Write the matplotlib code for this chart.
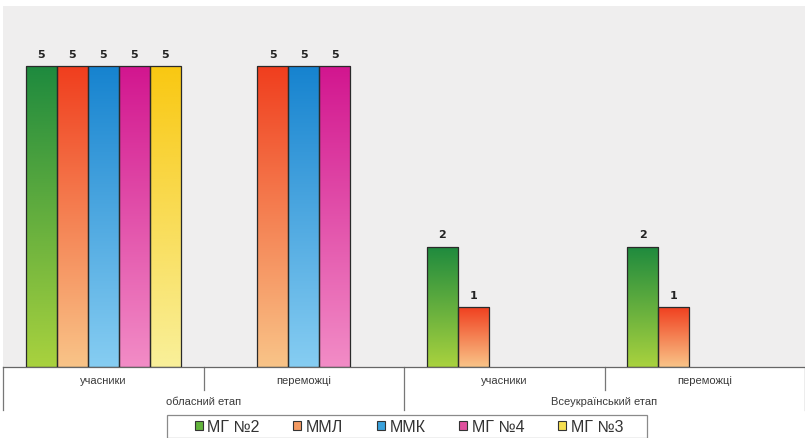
import matplotlib.pyplot as plt
import matplotlib.transforms as mtransforms
from matplotlib.colors import LinearSegmentedColormap
import numpy as np

plt.rcParams['font.family'] = ['Liberation Sans', 'DejaVu Sans']

# data
sub_labels = ['учасники', 'переможці', 'учасники', 'переможці']
stage_labels = ['обласний етап', 'Всеукраїнський етап']
series = ['МГ №2', 'ММЛ', 'ММК', 'МГ №4', 'МГ №3']
mg2 = [5, 0, 2, 2]
mml = [5, 5, 1, 1]
mmk = [5, 5, 0, 0]
mg4 = [5, 5, 0, 0]
mg3 = [5, 0, 0, 0]
values = [mg2, mml, mmk, mg4, mg3]

# gradient colours: (top, bottom)
grads = [('#1e8a3e', '#a9d23e'),
         ('#f03e1e', '#f9c488'),
         ('#1683cf', '#86cdf2'),
         ('#d2168f', '#f28cc6'),
         ('#f9c812', '#f9f09a')]
legend_cols = ['#62b43c', '#f49a62', '#3aa2dc', '#e0509e', '#f6df50']

fig = plt.figure(figsize=(8.05, 4.39), dpi=100)
fig.patch.set_facecolor('white')
ax = fig.add_axes([3 / 805, 1 - 368 / 439, 802 / 805, 361 / 439])
ax.set_facecolor('#efeeee')

x = np.arange(len(sub_labels))
w = 0.155
grad = np.linspace(1, 0, 256).reshape(-1, 1)

for i, (name, vals) in enumerate(zip(series, values)):
    cmap = LinearSegmentedColormap.from_list(name, [grads[i][1], grads[i][0]])
    pos = x + (i - 2) * w
    bars = ax.bar(pos, vals, w, color='none', edgecolor='#2a2a2a', linewidth=0.9, zorder=3)
    for b, v in zip(bars, vals):
        if v == 0:
            b.set_visible(False)
            continue
        x0 = b.get_x()
        im = ax.imshow(grad, cmap=cmap, aspect='auto', vmin=0, vmax=1,
                       extent=(x0, x0 + w, 0, v), zorder=2, interpolation='bilinear')
        im.set_clip_path(b)
        ax.text(x0 + w / 2, v + 0.12, str(v), ha='center', va='bottom',
                fontsize=8, fontweight='bold', color='#222222', family='DejaVu Sans')

ax.set_xlim(-0.5, 3.5)
ax.set_ylim(0, 6)
ax.set_yticks([])
ax.set_xticks([])
for s in ['left', 'right', 'top']:
    ax.spines[s].set_visible(False)
ax.spines['bottom'].set_color('#666666')
ax.spines['bottom'].set_linewidth(0.9)

# two-level category axis
tr = mtransforms.blended_transform_factory(ax.transData, ax.transAxes)
for xb in [0.5, 2.5]:
    ax.plot([xb, xb], [0, -0.065], transform=tr, color='#777777', lw=0.9, clip_on=False)
for xb in [-0.5, 1.5, 3.5]:
    ax.plot([xb, xb], [0, -0.12], transform=tr, color='#777777', lw=0.9, clip_on=False)
for xi, lab in zip(x, sub_labels):
    ax.text(xi, -0.035, lab, transform=tr, ha='center', va='center', fontsize=8, color='#3a3a3a')
for xi, lab in zip([0.5, 2.5], stage_labels):
    ax.text(xi, -0.093, lab, transform=tr, ha='center', va='center', fontsize=8, color='#3a3a3a')

# legend with its own frame
box = plt.Rectangle((167 / 805, 0), 480 / 805, 23 / 439, transform=fig.transFigure,
                    facecolor='white', edgecolor='#8a8a8a', lw=0.9, clip_on=False)
fig.patches.append(box)
handles = [plt.Rectangle((0, 0), 1, 1, facecolor=c, edgecolor='#333333', lw=0.8) for c in legend_cols]
leg = fig.legend(handles, series, loc='center', bbox_to_anchor=(409 / 805, 1 - 428 / 439), ncol=5,
                 frameon=False, fontsize=11.5, handlelength=0.5, handleheight=0.5,
                 handletextpad=0.3, columnspacing=2.1, borderpad=0.0)
for t in leg.get_texts():
    t.set_color('#333333')

fig.savefig('out.png', dpi=100)
